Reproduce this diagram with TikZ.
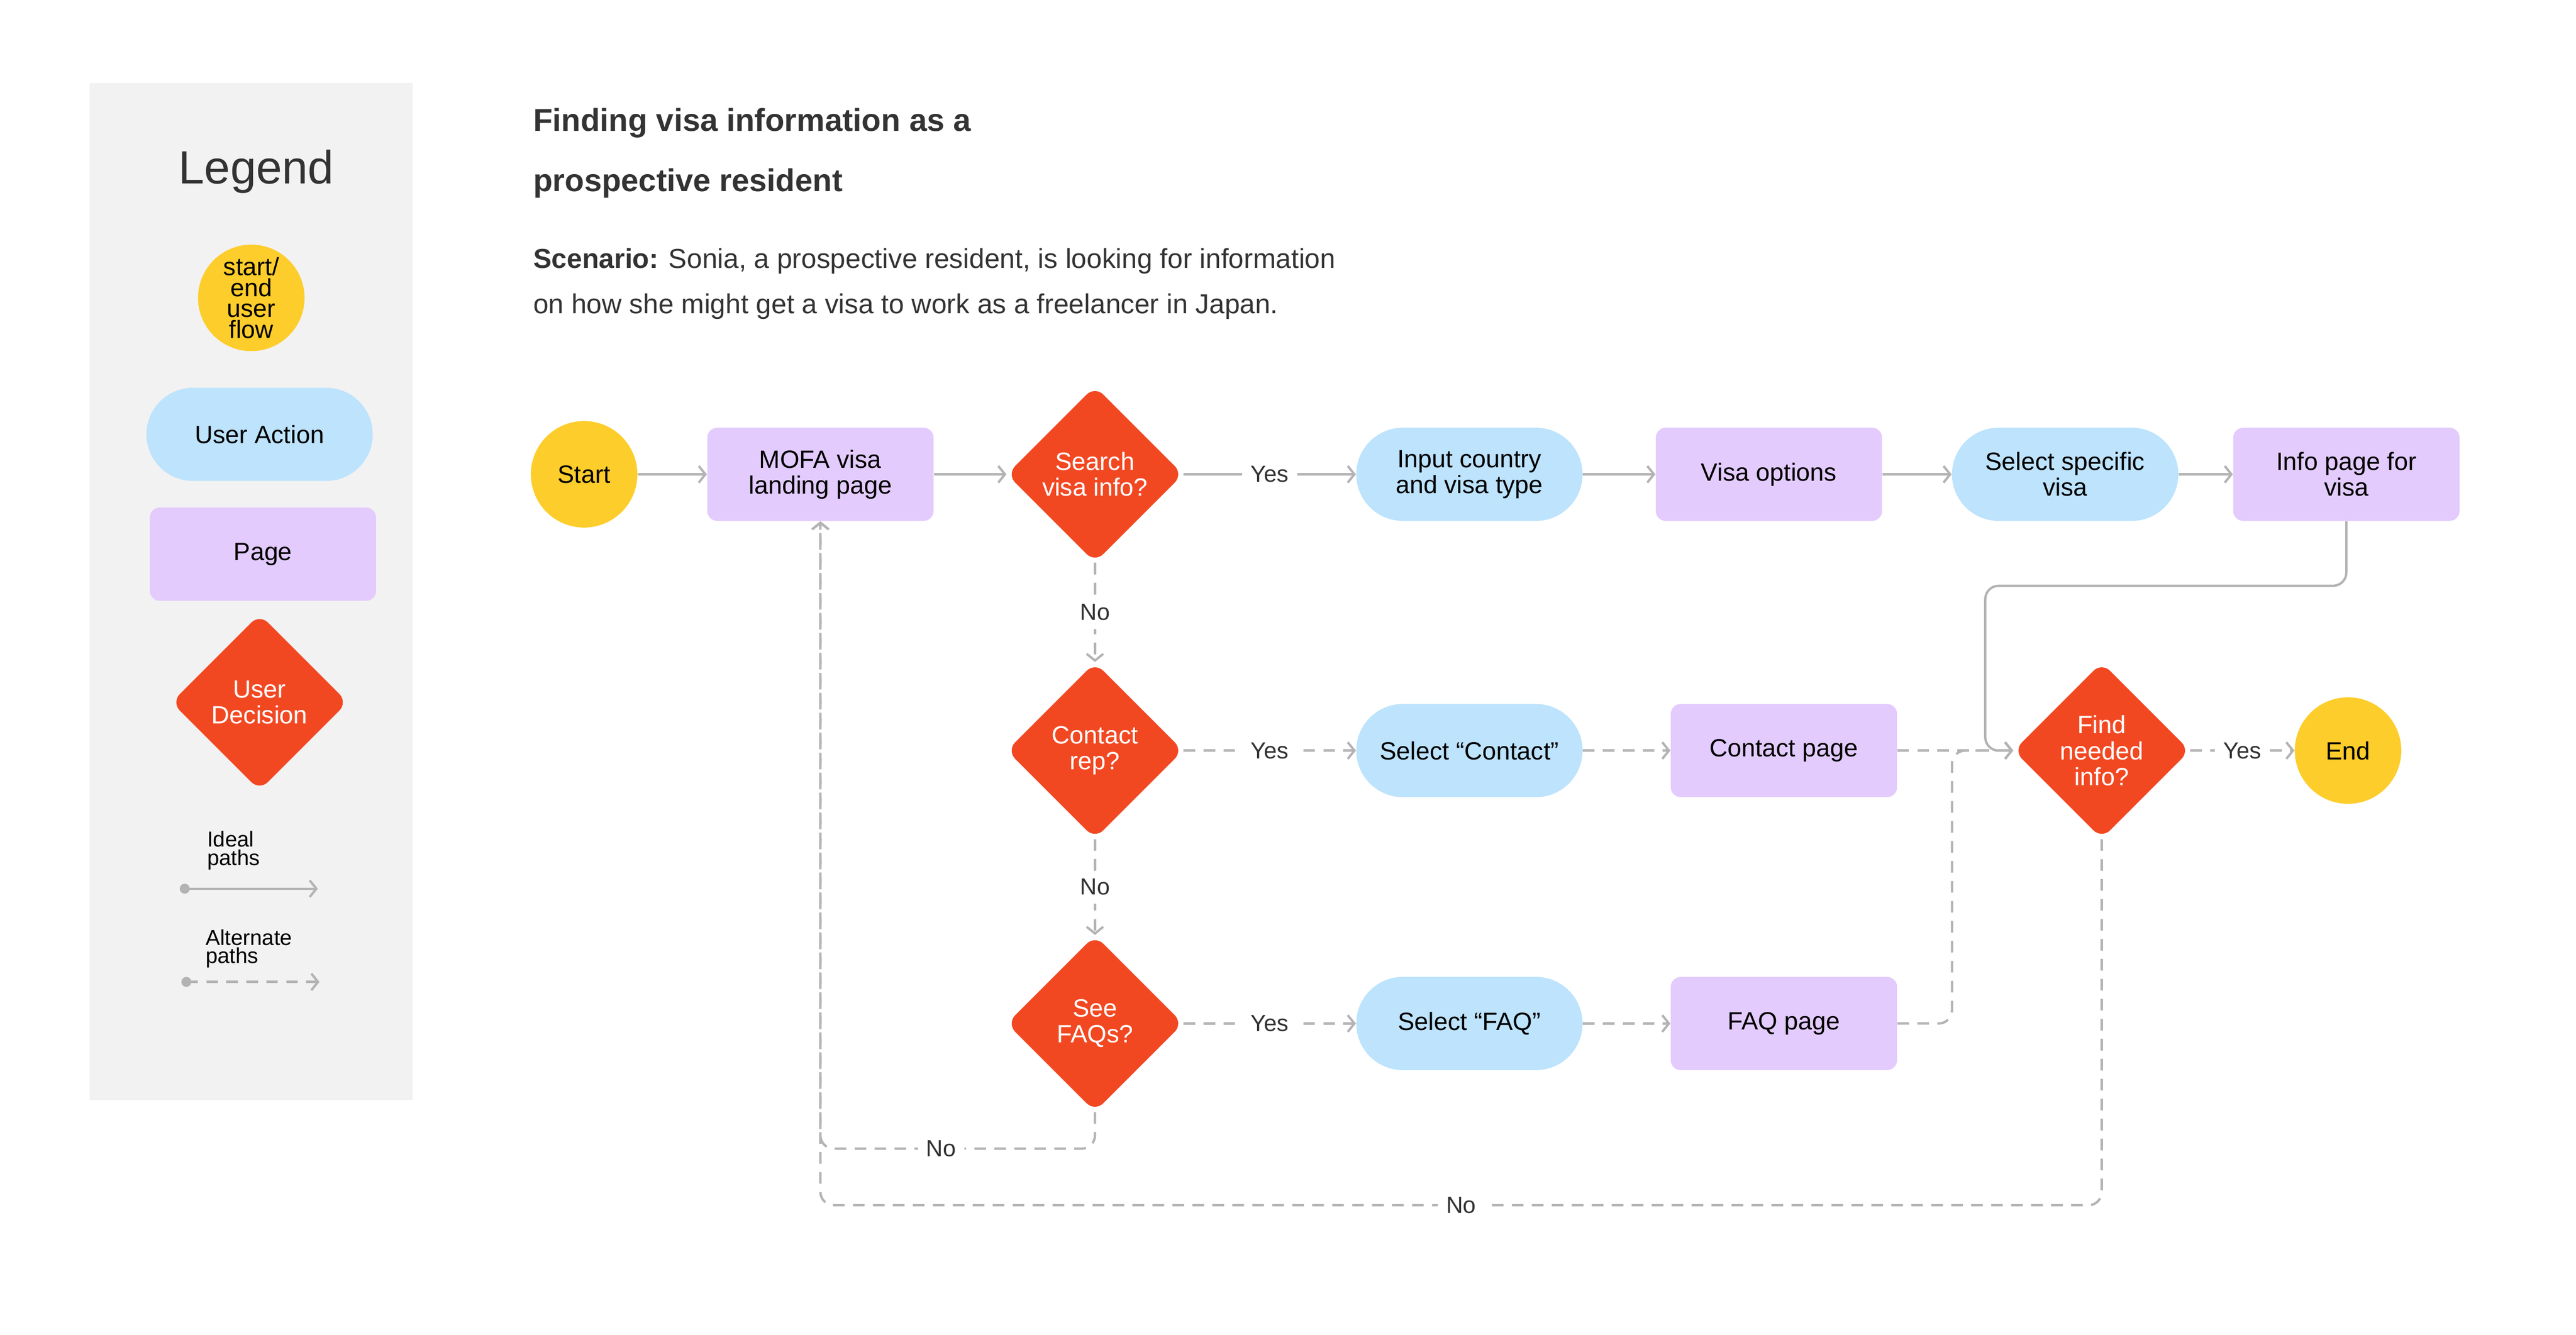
\documentclass[tikz,border=0pt]{standalone}
\usepackage{fontspec}
\setmainfont{Liberation Sans}
\usetikzlibrary{shapes.geometric,arrows.meta,positioning}

\definecolor{flowyellow}{HTML}{FDCD2B}
\definecolor{actionblue}{HTML}{BDE3FD}
\definecolor{pagepurple}{HTML}{E3CBFD}
\definecolor{decisionred}{HTML}{F24822}
\definecolor{linegray}{HTML}{B3B3B3}
\definecolor{textdark}{HTML}{333333}

\tikzset{
  base/.style={font=\fontsize{15}{15.5}\selectfont, align=center, inner sep=0pt},
  terminal/.style={base, circle, fill=flowyellow, minimum size=64pt},
  action/.style={base, rounded corners=28pt, fill=actionblue, minimum width=136pt, minimum height=56pt},
  page/.style={base, rounded corners=6pt, fill=pagepurple, minimum width=136pt, minimum height=56pt},
  decision/.style={diamond, aspect=1, fill=decisionred, rounded corners=7pt, minimum size=106pt, inner sep=0pt},
  dtext/.style={font=\fontsize{15}{15.5}\selectfont, align=center, text=white},
  flow/.style={draw=linegray, line width=1.4pt, -{Straight Barb[length=4pt,width=10pt]}},
  alt/.style={flow, dash pattern=on 7pt off 5pt},
  lbl/.style={font=\fontsize{14}{14}\selectfont, text=textdark, fill=white, inner sep=5pt}
}

\begin{document}
\begin{tikzpicture}[x=1pt,y=-1pt]
  \useasboundingbox (0,0) rectangle (1548,802);

  % Legend
  \fill[black!5] (54,50) rectangle (248,661);
  \node[font=\fontsize{28}{28}\selectfont, text=textdark] (legend) at (154,103) {Legend};
  \node[terminal, font=\fontsize{15}{12.5}\selectfont] (lterm) at (151,179) {start/\\end\\user\\flow};
  \node[action] (laction) at (156,261) {User Action};
  \node[page] (lpage) at (158,333) {Page};
  \node[decision, label={[dtext]center:User\\Decision}] (ldec) at (156,422) {};
  \node[font=\fontsize{13}{11}\selectfont, align=left, anchor=west] (lideal) at (121,511) {Ideal\\paths};
  \fill[linegray] (111,534) circle (3pt) coordinate (idealdot);
  \coordinate (idealend) at (191,534);
  \draw[flow] (idealdot) -- (idealend);
  \node[font=\fontsize{13}{11}\selectfont, align=left, anchor=west] (lalt) at (120,570) {Alternate\\paths};
  \fill[linegray] (112,590) circle (3pt) coordinate (altdot);
  \coordinate (altend) at (192,590);
  \draw[alt] (altdot) -- (altend);

  % Title and scenario
  \node[font=\bfseries\fontsize{19}{19}\selectfont, text=textdark, anchor=west] (title1) at (317,74) {Finding visa information as a};
  \node[font=\bfseries\fontsize{19}{19}\selectfont, text=textdark, anchor=west] (title2) at (317,110) {prospective resident};
  \node[font=\fontsize{16.5}{16.5}\selectfont, text=textdark, anchor=west] (scen1) at (317,157) {\textbf{Scenario:} Sonia, a prospective resident, is looking for information};
  \node[font=\fontsize{16.5}{16.5}\selectfont, text=textdark, anchor=west] (scen2) at (317,184) {on how she might get a visa to work as a freelancer in Japan.};

  % Row 1
  \node[terminal] (start) at (351,285) {Start};
  \node[page] (mofa) at (493,285) {MOFA visa\\landing page};
  \node[decision, label={[dtext]center:Search\\visa info?}] (search) at (658,285) {};
  \node[action] (input) at (883,285) {Input country\\and visa type};
  \node[page] (options) at (1063,285) {Visa options};
  \node[action] (select) at (1241,285) {Select specific\\visa};
  \node[page] (info) at (1410,285) {Info page for\\visa};

  % Row 2
  \node[decision, label={[dtext]center:Contact\\rep?}] (contact) at (658,451) {};
  \node[action] (selcontact) at (883,451) {Select “Contact”};
  \node[page] (contactpage) at (1072,451) {Contact page};
  \node[decision, label={[dtext]center:Find\\needed\\info?}] (find) at (1263,451) {};
  \node[terminal] (end) at (1411,451) {End};

  % Row 3
  \node[decision, label={[dtext]center:See\\FAQs?}] (faqs) at (658,615) {};
  \node[action] (selfaq) at (883,615) {Select “FAQ”};
  \node[page] (faqpage) at (1072,615) {FAQ page};

  \coordinate (infobend) at (1193,352);
  \coordinate (faqbend) at (1173,615);

  % Ideal paths
  \draw[flow] (start) -- (mofa);
  \draw[flow] (mofa) -- (search);
  \draw[flow] (search) -- node[lbl]{Yes} (input);
  \draw[flow] (input) -- (options);
  \draw[flow] (options) -- (select);
  \draw[flow] (select) -- (info);
  \draw[flow, rounded corners=8pt] (info.south) |- (infobend) |- (find.west);

  % Alternate paths
  \draw[alt] (search) -- node[lbl]{No} (contact);
  \draw[alt] (contact) -- node[lbl]{Yes} (selcontact);
  \draw[alt] (selcontact) -- (contactpage);
  \draw[alt] (contactpage) -- (find.west);
  \draw[alt] (contact) -- node[lbl]{No} (faqs);
  \draw[alt] (faqs) -- node[lbl]{Yes} (selfaq);
  \draw[alt] (selfaq) -- (faqpage);
  \draw[alt, rounded corners=8pt] (faqpage) -- (faqbend) |- (find.west);
  \draw[alt] (find) -- node[lbl]{Yes} (end);
  \draw[alt, rounded corners=8pt] (faqs.south) -- ++(0,22) -| node[lbl, pos=0.28]{No} (mofa.south);
  \draw[alt, rounded corners=8pt] (find.south) -- ++(0,220) -| node[lbl, pos=0.25]{No} (mofa.south);
\end{tikzpicture}
\end{document}
